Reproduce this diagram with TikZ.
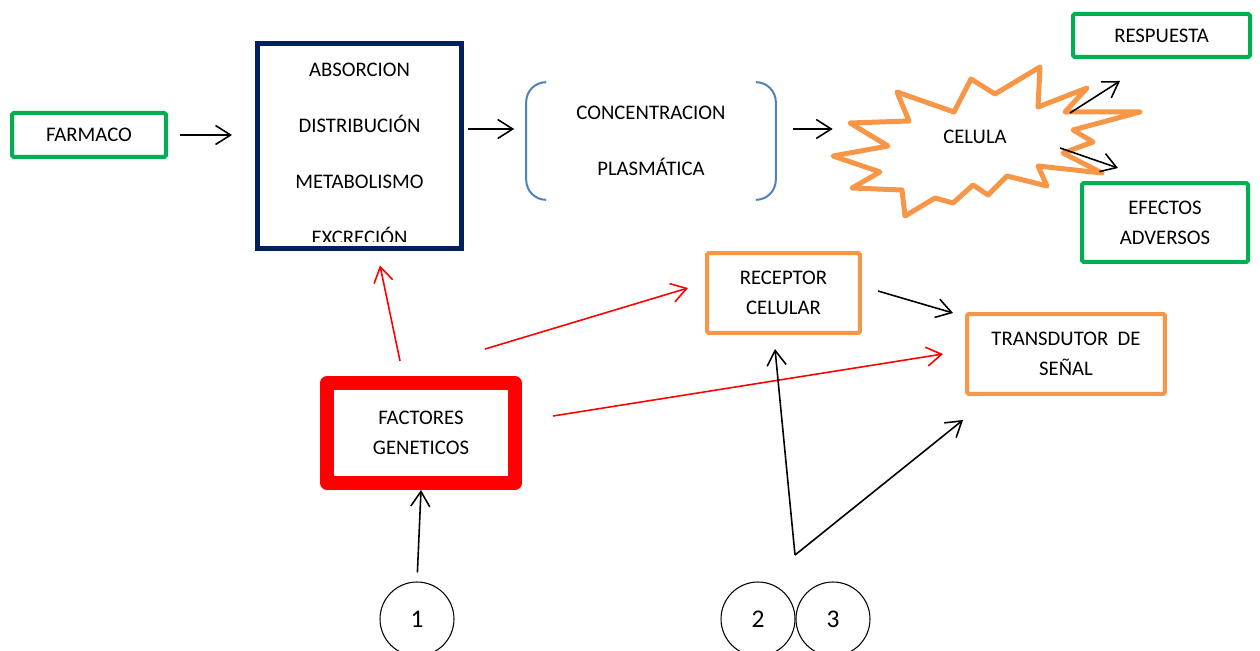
\documentclass[tikz,border=0pt]{standalone}
\usepackage{fontspec}
\setmainfont{Carlito}
\usepackage{tikz}
\usetikzlibrary{arrows.meta,positioning}
\definecolor{verde}{HTML}{00B050}
\definecolor{naranja}{HTML}{F79646}
\definecolor{marino}{HTML}{002060}
\definecolor{azul}{HTML}{4F81BD}
\tikzset{verdebox/.style={draw=verde,line width=0.08cm,rounded corners=1pt,align=center,font=\fontsize{11.8}{17}\selectfont}}
\tikzset{naranjabox/.style={draw=naranja,line width=0.08cm,rounded corners=1pt,align=center,font=\fontsize{11.8}{17}\selectfont}}
\tikzset{ancho/.style={align=center,font=\fontsize{11.8}{32}\selectfont}}
\tikzset{circ/.style={circle,draw,line width=0.6pt,minimum size=1.48cm,font=\fontsize{14.5}{16}\selectfont}}
\tikzset{flecha/.style={->,line width=0.9pt}}
\tikzset{roja/.style={->,red,line width=0.9pt}}

\begin{document}
\begin{tikzpicture}[x=0.02cm,y=-0.02cm,>={Straight Barb[length=0.3cm,width=0.38cm]}]
    \useasboundingbox (0,0) rectangle (1260,651);

    \node[verdebox,minimum width=3.08cm,minimum height=0.88cm] (farmaco) at (89,135) {FARMACO};
    \node[draw=marino,line width=0.1cm,minimum width=4.08cm,minimum height=4.1cm] (adme) at (359.5,146) {};
    \begin{scope}
        \clip ([shift={(0.05cm,-0.05cm)}]adme.north west) rectangle ([shift={(-0.05cm,0.19cm)}]adme.south east);
        \node[ancho] (admetxt) at (359.5,154) {ABSORCION\\DISTRIBUCIÓN\\METABOLISMO\\EXCRECIÓN};
    \end{scope}
    \node[ancho,minimum width=4.98cm,minimum height=2.34cm] (conc) at (651,141) {CONCENTRACION\\PLASMÁTICA};
    \draw[azul,line width=0.04cm] ([xshift=0.4cm]conc.north west) to[out=180,in=90] ([yshift=-0.4cm]conc.north west)
        -- ([yshift=0.4cm]conc.south west) to[out=-90,in=180] ([xshift=0.4cm]conc.south west);
    \draw[azul,line width=0.04cm] ([xshift=-0.4cm]conc.north east) to[out=0,in=90] ([yshift=-0.4cm]conc.north east)
        -- ([yshift=0.4cm]conc.south east) to[out=-90,in=0] ([xshift=-0.4cm]conc.south east);

    % celula
    \draw[naranja,line width=0.1cm,line join=round] (971,79) -- (995,94) -- (1040,67) -- (1038,107) -- (1087,88)
        -- (1065,112) -- (1140,112) -- (1073,130) -- (1093,142) -- (1063,153) -- (1102,173) -- (1038,166)
        -- (1047,186) -- (1007,176) -- (988,195) -- (973,185) -- (953,203) -- (935,198) -- (905,216)
        -- (902,190) -- (852,188) -- (880,172) -- (833,156) -- (888,146) -- (850,123) -- (909,121)
        -- (897,92) -- (954,112) -- cycle;
    \node[minimum width=5.68cm,font=\fontsize{11.8}{17}\selectfont] (celula) at (975,137) {CELULA};
    \coordinate (celR) at (1070,113);
    \coordinate (celE) at (1060,148);

    \node[verdebox,minimum width=3.54cm,minimum height=0.86cm] (respuesta) at (1161.5,35.5) {RESPUESTA};
    \node[verdebox,minimum width=3.32cm,minimum height=1.58cm] (efectos) at (1165,222.5) {EFECTOS\\ADVERSOS};
    \node[naranjabox,minimum width=3.06cm,minimum height=1.6cm] (receptor) at (783.5,293) {RECEPTOR\\CELULAR};
    \node[naranjabox,minimum width=3.96cm,minimum height=1.6cm] (transductor) at (1066,354) {TRANSDUTOR\ \ DE\\SEÑAL};
    \node[draw=red,line width=0.28cm,line join=round,align=center,font=\fontsize{11.8}{17}\selectfont,
        minimum width=3.76cm,minimum height=2.0cm] (factores) at (421,433) {FACTORES\\GENETICOS};

    \node[circ] (c1) at (417,619) {1};
    \node[circ] (c2) at (758,619) {2};
    \node[circ] (c3) at (833,619) {3};
    \coordinate (rama) at (795,555);

    \draw[flecha,shorten <=0.24cm,shorten >=0.46cm] (farmaco.east) -- (farmaco.east -| adme.west);
    \draw[flecha,shorten <=0.09cm,shorten >=0.24cm] ([yshift=0.34cm]adme.east) -- ([yshift=0.34cm]adme.east -| conc.west);
    \draw[flecha,shorten <=0.35cm] ([yshift=0.24cm]conc.east) -- ([yshift=0.24cm]conc.east -| celula.west);
    \draw[flecha] (celR) -- ([shift={(0.98cm,-0.44cm)}]respuesta.south west);
    \draw[flecha] (celE) -- ([shift={(0.76cm,0.26cm)}]efectos.north west);
    \draw[flecha] ([shift={(0.32cm,0.04cm)}]receptor.east) -- ([shift={(-0.24cm,-0.02cm)}]transductor.north west);

    \draw[roja] ([shift={(-0.42cm,0.3cm)}]factores.north) -- ([shift={(0.41cm,-0.29cm)}]adme.south);
    \draw[roja] ([shift={(-0.74cm,0.54cm)}]factores.north east) -- ([shift={(-0.34cm,0.1cm)}]receptor.west);
    \draw[roja] ([shift={(0.62cm,0.34cm)}]factores.east) -- ([xshift=-0.44cm]transductor.west);

    \draw[flecha,shorten <=0.18cm] (c1.north) -- (factores.south);
    \draw[flecha] (rama) -- ([shift={(-0.17cm,-0.28cm)}]receptor.south);
    \draw[flecha] (rama) -- ([shift={(-0.04cm,-0.48cm)}]transductor.south west);
\end{tikzpicture}
\end{document}
